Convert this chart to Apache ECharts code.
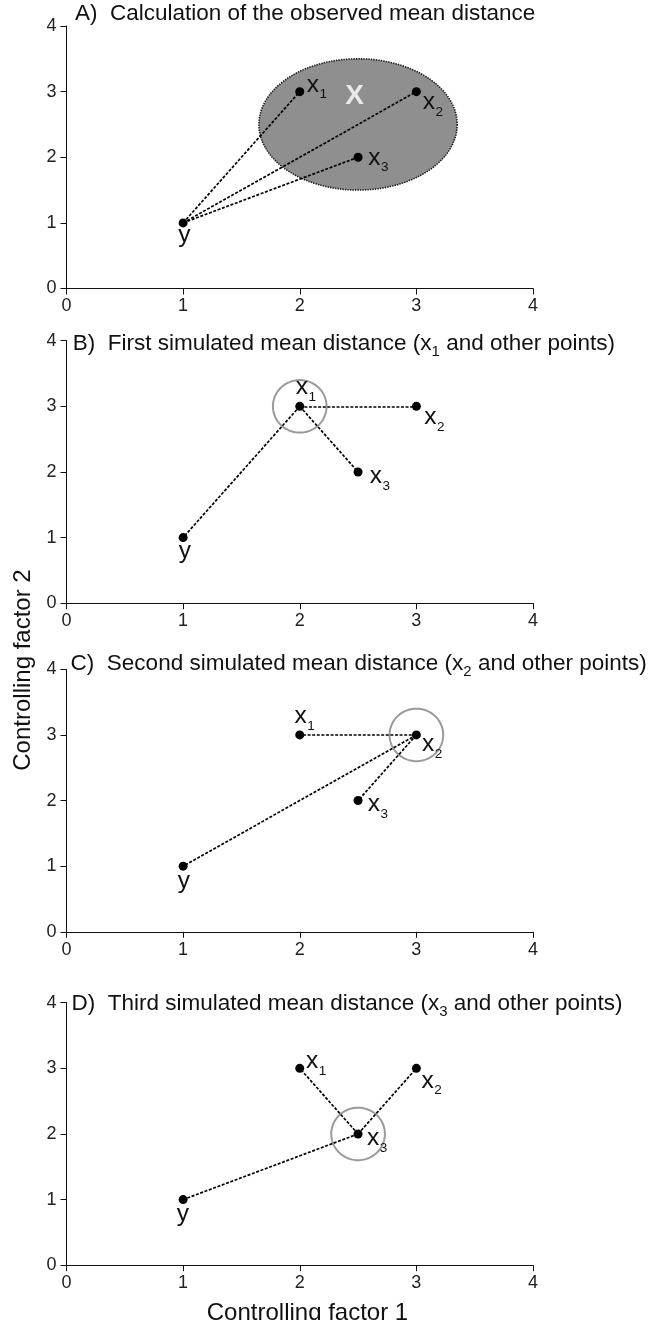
<!DOCTYPE html>
<html><head><meta charset="utf-8">
<script src="https://cdn.jsdelivr.net/npm/echarts@6/dist/echarts.min.js"></script>
<style>html,body{margin:0;padding:0;background:#fff}#c{width:648px;height:1320px}</style>
</head><body><div id="c"></div>
<script>
// ---------- data ----------
const pointNames = ['y', 'x1', 'x2', 'x3'];
const factor1 = [1, 2, 3, 2.5];
const factor2 = [1, 3, 3, 2];
const panelLetters = ['A', 'B', 'C', 'D'];
const panelTitles = ['Calculation of the observed mean distance', 'First simulated mean distance', 'Second simulated mean distance', 'Third simulated mean distance'];
const panelFocus = [0, 1, 2, 3];           // index of the point the distances are measured from
const axisMin = 0, axisMax = 4, axisStep = 1;
const clusterCenter = [2.5, 2.5];
const clusterRadii = [0.85, 1.0];
const clusterName = 'X';
const clusterNamePos = [2.47, 2.93];
const focusRadii = [0.23, 0.4];
const xAxisName = 'Controlling factor 1';
const yAxisName = 'Controlling factor 2';

// ---------- layout / style ----------
const FONT = '"Liberation Sans", Arial, Helvetica, sans-serif';
const gridTops = [26, 340.7, 669.3, 1002.7];
const gridH = 262.5, gridL = 66.5, gridW = 466.5;
const titleLefts = [75, 72.7, 70.6, 71.5];
const titleMiddles = [15.7, 345.7, 665.7, 1005.7];
const labelOffsets = [
  [[-5, 0], [7, -19.2], [6.3, -1.4], [10.2, -11.9]],
  [[-4.3, 1.6], [-3.9, -31.1], [7.9, -1.1], [11.7, -7.9]],
  [[-5.3, 2.7], [-5.3, -31.1], [5.6, -2.8], [9.7, -8.4]],
  [[-6.4, 2.5], [6.3, -19.3], [5.1, 0], [8.9, -8.1]]
];

function ellipseRender(style) {
  return function (params, api) {
    const c = api.coord([api.value(0), api.value(1)]);
    const s = api.size([api.value(2), api.value(3)]);
    const pts = [];
    for (let k = 0; k < 120; k++) {
      const a = k / 120 * 2 * Math.PI;
      pts.push([c[0] + s[0] * Math.cos(a), c[1] + s[1] * Math.sin(a)]);
    }
    return { type: 'polygon', shape: { points: pts }, style: Object.assign({}, style) };
  };
}

const grids = [], xAxes = [], yAxes = [], series = [], titles = [];
panelLetters.forEach((L, p) => {
  grids.push({ left: gridL, top: gridTops[p], width: gridW, height: gridH, containLabel: false });
  const common = {
    type: 'value', min: axisMin, max: axisMax, interval: axisStep, gridIndex: p,
    splitLine: { show: false },
    axisLine: { show: true, lineStyle: { color: '#111', width: 1 } },
    axisTick: { show: true, inside: false, length: 6, lineStyle: { color: '#111', width: 1 } },
    axisLabel: { fontSize: 18, color: '#222', fontFamily: FONT }
  };
  xAxes.push(Object.assign({}, common, { axisLabel: Object.assign({}, common.axisLabel, { margin: 9 }) }));
  yAxes.push(Object.assign({}, common, { axisLabel: Object.assign({}, common.axisLabel, { margin: 10 }) }));

  // title
  let txt = `{t|${L})  ${panelTitles[p]}}`;
  if (p > 0) txt = `{t|${L})  ${panelTitles[p]} (x}{s|${p}}{t| and other points)}`;
  titles.push({
    text: txt, left: titleLefts[p], top: titleMiddles[p] - 13, padding: 0,
    textStyle: {
      fontFamily: FONT, fontWeight: 'normal', color: '#111',
      rich: {
        t: { fontSize: 22.5, lineHeight: 26, verticalAlign: 'top', color: '#111', fontFamily: FONT },
        s: { fontSize: 15, lineHeight: 15, verticalAlign: 'top', padding: [12, 0, 0, 0], color: '#111', fontFamily: FONT }
      }
    }
  });

  const f = panelFocus[p];
  if (p === 0) {
    series.push({
      type: 'custom', xAxisIndex: p, yAxisIndex: p, z: 1, silent: true, clip: false,
      renderItem: ellipseRender({ fill: '#8f8f8f', stroke: '#1a1a1a', lineWidth: 1.6, lineDash: [1.4, 1.1] }),
      data: [[clusterCenter[0], clusterCenter[1], clusterRadii[0], clusterRadii[1]]]
    });
  } else {
    series.push({
      type: 'custom', xAxisIndex: p, yAxisIndex: p, z: 1, silent: true, clip: false,
      renderItem: ellipseRender({ fill: 'none', stroke: '#9a9a9a', lineWidth: 2 }),
      data: [[factor1[f], factor2[f], focusRadii[0], focusRadii[1]]]
    });
  }

  // dashed distance lines from the focal point to every other point
  const seg = [];
  pointNames.forEach((n, k) => {
    if (k !== f) seg.push({ coords: [[factor1[f], factor2[f]], [factor1[k], factor2[k]]] });
  });
  series.push({
    type: 'lines', coordinateSystem: 'cartesian2d', xAxisIndex: p, yAxisIndex: p, z: 2, silent: true,
    lineStyle: { color: '#000', width: 1.7, type: [3, 1.6], opacity: 1, curveness: 0 },
    data: seg
  });

  // points
  series.push({
    type: 'scatter', xAxisIndex: p, yAxisIndex: p, z: 3, symbol: 'circle', symbolSize: 9, silent: true,
    itemStyle: { color: '#000', opacity: 1 },
    label: {
      show: true, position: 'inside', align: 'left', verticalAlign: 'top',
      formatter: prm => prm.name.length > 1 ? `{m|${prm.name[0]}}{s|${prm.name.slice(1)}}` : `{m|${prm.name}}`,
      rich: {
        m: { fontSize: 24.5, lineHeight: 24, verticalAlign: 'top', color: '#111', fontFamily: FONT },
        s: { fontSize: 13.5, lineHeight: 13, verticalAlign: 'top', padding: [15, 0, 0, 0.5], color: '#111', fontFamily: FONT }
      }
    },
    data: pointNames.map((n, k) => ({ name: n, value: [factor1[k], factor2[k]], label: { offset: labelOffsets[p][k] } }))
  });

  if (p === 0) {
    series.push({
      type: 'scatter', xAxisIndex: p, yAxisIndex: p, z: 4, symbolSize: 0, silent: true,
      label: { show: true, position: 'inside', formatter: clusterName, fontSize: 28, fontWeight: 'bold', color: '#fff', fontFamily: FONT },
      data: [{ name: clusterName, value: clusterNamePos }]
    });
  }
});

const chart = echarts.init(document.getElementById('c'), null, { renderer: 'canvas' });
chart.setOption({
  backgroundColor: '#fff',
  animation: false,
  title: titles,
  grid: grids,
  xAxis: xAxes,
  yAxis: yAxes,
  series: series,
  graphic: [
    { type: 'text', x: 23.4, y: 670, rotation: Math.PI / 2, style: { text: yAxisName, fontSize: 24, fontFamily: FONT, fill: '#111', align: 'center', verticalAlign: 'middle' } },
    { type: 'text', x: 307.5, y: 1312.9, style: { text: xAxisName, fontSize: 24, fontFamily: FONT, fill: '#111', align: 'center', verticalAlign: 'middle' } }
  ]
});
</script></body></html>
